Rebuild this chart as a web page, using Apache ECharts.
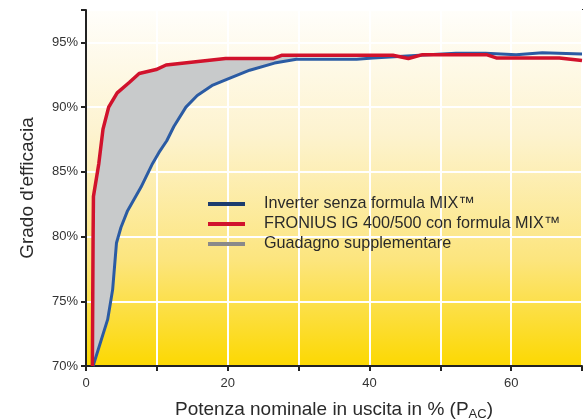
<!DOCTYPE html>
<html>
<head>
<meta charset="utf-8">
<script src="https://cdn.jsdelivr.net/npm/echarts@6/dist/echarts.min.js"></script>
<style>
  html, body { margin: 0; padding: 0; background: #fff; }
  #chart { width: 587px; height: 419px; }
</style>
</head>
<body>
<div id="chart"></div>
<script>
// efficiency curves (x = % of nominal power, y = efficiency %)
var redX = [0.9, 1.0, 1.05, 1.8, 2.4, 3.2, 4.4, 6.1, 7.5, 9.9, 11.3, 15.5, 19.7, 26.4, 27.6, 43.3, 45.5, 47.5, 56.5, 57.9, 66.8, 70];
var redY = [70, 80, 83.1, 85.6, 88.3, 90, 91.1, 91.9, 92.6, 92.9, 93.25, 93.5, 93.75, 93.75, 94.0, 94.0, 93.75, 94.05, 94.05, 93.8, 93.8, 93.6];

var blueX = [1.0, 3.06, 3.76, 4.3, 4.93, 5.87, 7.75, 9.4, 10.3, 11.4, 12.4, 14.1, 15.7, 17.9, 19.7, 23.1, 26.6, 29.7, 38.2, 40.5, 47.1, 52.2, 56.4, 60.7, 64.4, 70];
var blueY = [70, 73.6, 75.9, 79.5, 80.7, 82.0, 83.8, 85.65, 86.5, 87.4, 88.5, 90, 90.9, 91.7, 92.1, 92.85, 93.4, 93.7, 93.7, 93.8, 94.0, 94.15, 94.15, 94.05, 94.2, 94.1];

var xLabels = [0, 20, 40, 60];
var yLabels = [70, 75, 80, 85, 90, 95];

var names = [
  'Inverter senza formula MIX™',
  'FRONIUS IG 400/500 con formula MIX™',
  'Guadagno supplementare'
];

function pairs(xs, ys) {
  var out = [];
  for (var i = 0; i < xs.length; i++) out.push([xs[i], ys[i]]);
  return out;
}

var redData = pairs(redX, redY);
var blueData = pairs(blueX, blueY);

var chart = echarts.init(document.getElementById('chart'));

var option = {
  animation: false,
  textStyle: { fontFamily: 'Liberation Sans, Arial, sans-serif' },
  grid: {
    left: 86, right: 5, top: 10, bottom: 53,
    outerBoundsMode: 'none',
    containLabel: false,
    show: true,
    borderColor: '#222',
    borderWidth: 2,
    backgroundColor: {
      type: 'linear', x: 0, y: 0, x2: 0, y2: 1,
      colorStops: [
        { offset: 0, color: '#fffefb' },
        { offset: 0.35, color: '#fdf3cf' },
        { offset: 0.7, color: '#fce57e' },
        { offset: 1, color: '#fcd800' }
      ]
    }
  },
  legend: {
    orient: 'vertical',
    left: 203,
    top: 190,
    itemWidth: 37,
    itemHeight: 4,
    itemGap: 2,
    icon: 'rect',
    textStyle: { fontSize: 16.2, lineHeight: 18, color: '#2a2a2a', padding: [0, 0, 0, 14] },
    data: [
      { name: names[0], itemStyle: { color: '#1c3c6e' } },
      { name: names[1], itemStyle: { color: '#d1122c' } },
      { name: names[2], itemStyle: { color: '#8a8a8a' } }
    ]
  },
  xAxis: {
    type: 'value',
    min: 0, max: 70, interval: 10,
    name: 'Potenza nominale in uscita in % (P{s|AC})',
    nameLocation: 'middle',
    nameGap: 33,
    nameTextStyle: {
      fontSize: 19, color: '#2a2a2a',
      rich: { s: { fontSize: 13, color: '#2a2a2a', verticalAlign: 'bottom', padding: [9, 0, 0, 0] } }
    },
    axisLine: { lineStyle: { color: '#222', width: 2 } },
    axisTick: { show: true, length: 5, lineStyle: { color: '#222', width: 2 } },
    axisLabel: {
      fontSize: 13, color: '#333', margin: 11,
      formatter: function (v) { return xLabels.indexOf(v) >= 0 ? String(v) : ''; }
    },
    splitLine: { show: true, lineStyle: { color: '#fff', width: 2 } }
  },
  yAxis: {
    type: 'value',
    min: 70, max: 97.5, interval: 5,
    name: "Grado d'efficacia",
    nameLocation: 'middle',
    nameGap: 49,
    nameTextStyle: { fontSize: 19, color: '#2a2a2a' },
    axisLine: { lineStyle: { color: '#222', width: 2 } },
    axisTick: { show: true, length: 5, lineStyle: { color: '#222', width: 2 } },
    axisLabel: {
      fontSize: 13, color: '#333', margin: 8,
      formatter: function (v) { return yLabels.indexOf(v) >= 0 ? v + '%' : ''; }
    },
    splitLine: { show: true, lineStyle: { color: '#fff', width: 2 } }
  },
  series: [
    {
      name: names[2],
      type: 'custom',
      itemStyle: { color: '#8a8a8a' },
      data: [0],
      z: 1,
      renderItem: function (params, api) {
        var pts = [];
        redData.forEach(function (d) { if (d[0] <= 30) pts.push(api.coord(d)); });
        pts.push(api.coord([30, 94.0]));
        blueData.slice().reverse().forEach(function (d) { if (d[0] <= 30) pts.push(api.coord(d)); });
        return {
          type: 'polygon',
          shape: { points: pts },
          style: { fill: '#c8cacb', stroke: null }
        };
      }
    },
    {
      name: names[0],
      type: 'line',
      data: blueData,
      showSymbol: false,
      z: 2,
      itemStyle: { color: '#2b5ba3' },
      lineStyle: { color: '#2b5ba3', width: 3 }
    },
    {
      name: names[1],
      type: 'line',
      data: redData,
      showSymbol: false,
      z: 3,
      itemStyle: { color: '#d1122c' },
      lineStyle: { color: '#d1122c', width: 3.5 }
    }
  ]
};

chart.setOption(option);
</script>
</body>
</html>
